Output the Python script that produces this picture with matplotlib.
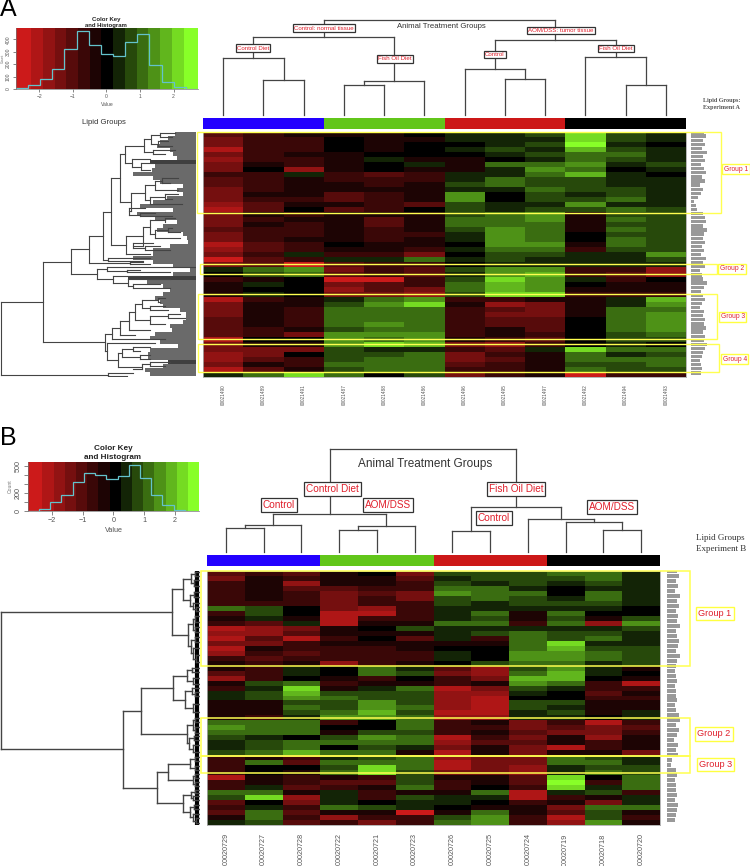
import numpy as np
from matplotlib import pyplot as plt
from matplotlib.colors import LinearSegmentedColormap
from matplotlib.patches import Rectangle

plt.rcParams['font.family'] = ['Liberation Sans', 'DejaVu Sans']

W, H = 750, 866

# panel A
labels_a = ['00021490', '00021489', '00021491', '00021487', '00021488', '00021486',
            '00021496', '00021495', '00021497', '00021492', '00021494', '00021493']
heat_a = [
    [-1.1, -.7, -.5, -.3, -.2, -.1, .5, .4, .7, 2.0, .7, .3],
    [-1.4, -.8, -.6, -.1, -.2, -.3, .4, .2, .5, 2.3, .6, .2],
    [-1.5, -.6, -.7, 0, -.2, 0, .1, .3, .6, 2.4, .5, .1],
    [-2.0, -.9, -.8, -.1, -.3, 0, .4, .6, .5, 1.9, .8, .4],
    [-1.5, -.8, -.4, -.3, -.1, -.1, -.1, .5, .6, .9, .9, .2],
    [-1.8, -.9, -.8, -.2, .3, -.3, -.2, -.1, .4, 1.2, .8, .4],
    [-1.6, -.5, -.7, -.4, .1, .3, -.3, 1.0, 1.0, 1.3, .3, .6],
    [-1.3, .1, -1.7, -.3, .1, -.5, -.2, .3, 1.5, .9, .1, .2],
    [-.9, -.7, .3, -.9, -1.1, -.8, .4, .5, 1.1, 1.9, .2, 0],
    [-1.2, -.8, -.4, -.7, -.9, -.6, .5, 1.1, .7, .7, .5, .3],
    [-1.2, -.9, -.5, -.5, -.6, -.5, .6, 1.0, .8, .6, .5, .4],
    [-1.3, -.8, -.5, -.3, -.5, -.5, .5, .4, .9, .7, .6, .3],
    [-1.3, -.5, -.5, -1.1, -.9, -.5, 1.4, .1, .8, .4, .8, .3],
    [-1.4, -.8, -.6, -1.0, -.7, -.5, 1.3, -.1, .6, .8, .9, .5],
    [-1.7, -1.0, -.2, -.3, -.8, -1.1, .7, .2, .5, 1.3, .5, .4],
    [-2.1, -1.1, -.1, -1.0, -.6, .1, .6, .2, .6, .8, .9, .6],
    [-1.3, -.4, -.6, -.4, -.3, -.2, .8, 1.1, 1.4, -.2, .6, .7],
    [-1.3, -.6, -.4, -.5, -1.0, -.3, 1.0, 1.0, 1.3, -.5, .9, .8],
    [-1.4, -.5, -.6, -.3, -1.1, -.4, .9, 1.2, 1.1, -.5, .7, .7],
    [-1.2, -.8, -.7, -.5, -.7, -.5, .6, 1.5, 1.0, -.2, .9, .8],
    [-1.6, -.9, -.6, -.4, -.9, -.7, .3, 1.6, 1.1, 0, .7, .8],
    [-1.3, -.8, -.5, -.2, -.7, -.5, .5, 1.4, .9, .1, .9, .8],
    [-2.1, -1.0, -.7, -.1, -.5, -.4, .1, 1.3, 1.3, -.2, 1.0, .8],
    [-1.9, -1.0, -.6, -.2, -.3, -.8, .2, .9, 1.0, -.6, .6, .8],
    [-1.3, -.8, .2, -.8, -.9, -1.5, .1, .7, .8, .2, .3, 1.6],
    [-2.6, -1.2, -.7, .4, .2, .9, .2, .6, .5, .4, .4, .8],
    [-1.4, -1.0, -2.5, -1.2, -.7, -.9, 0, .4, .3, .5, .5, .5],
    [.3, .9, 1.4, -1.3, -.9, -1.0, .7, 1.5, 1.6, -.9, -.8, -1.9],
    [.1, .6, 1.1, -1.0, -.8, -1.2, .5, 1.3, 1.7, -.7, -1.2, -1.8],
    [-.9, -.3, .1, -2.4, -2.4, -.8, .7, 2.3, 1.4, .2, -.6, 0],
    [-.4, .2, .1, -1.6, -1.0, -.6, .9, 1.8, 1.3, .1, -.3, -.2],
    [-.4, .1, -.1, -1.7, -1.2, -1.5, 1.0, 1.9, 1.5, -.3, -.4, -.4],
    [-.5, .3, .1, -1.4, -1.3, -1.9, .8, 2.0, 2.0, -.8, -.6, -.7],
    [-2.0, -.7, -.4, .2, 1.2, 1.6, -.7, -.9, -.3, -.2, .3, 1.9],
    [-1.4, -.4, -.5, .6, 1.5, 2.1, -.4, -1.9, -1.5, -.2, .5, 1.4],
    [-1.3, -.3, -.7, .9, .9, 1.1, -.7, -1.2, -1.5, -.3, .9, 1.2],
    [-1.5, -.2, -.6, .9, 1.2, 1.2, -.7, -1.3, -1.3, -.2, .9, 1.3],
    [-1.2, -.3, -.7, .9, 1.2, 1.2, -.6, -1.1, -1.1, 0, .9, 1.3],
    [-1.1, -.5, -.7, 1.0, 1.3, 1.2, -.9, -1.0, -1.0, -.1, .9, 1.3],
    [-1.0, -.9, -.3, .8, 1.1, 1.2, -.8, -.5, -1.1, -.1, .9, 1.3],
    [-1.2, -.6, -1.4, 1.3, 1.5, 1.6, -.9, -.4, -.9, .1, .8, 1.0],
    [-2.0, .1, -.1, 1.5, 1.2, 1.5, -.3, -.9, -1.0, .1, .6, .7],
    [-1.3, -.5, -.2, 1.3, 2.0, 1.7, -1.4, -1.9, -.7, -.1, .3, 0],
    [-1.6, -1.5, -1.6, .6, .5, .3, -.7, -1.0, .3, 2.0, .9, .9],
    [-1.7, -1.6, -.1, .8, .7, .9, -1.4, -.7, -.2, 1.0, .4, .6],
    [-1.9, -1.1, -.7, .7, .9, 1.0, -1.5, -1.2, -.4, 1.0, .9, .9],
    [-1.4, -.5, -.9, 1.0, .9, 1.2, -1.2, -.9, -.5, .7, .7, .9],
    [-2.1, -1.0, -.5, .8, 1.2, 1.0, -.9, -.7, -.4, 1.0, .7, .7],
    [.3, 1.2, 2.0, 1.0, -.1, .8, -1.3, -.9, -.5, -2.7, -.8, -.7],
]
hist_a = [5, 30, 80, 160, 318, 465, 350, 285, 265, 375, 445, 195, 55, 15, 2]
# nested merges: [height, left, right], ints are column leaves
col_tree_a = [20, [37, [58, 0, [80, 1, 2]], [81, [85, 3, 4], 5]],
              [40, [69, 6, [79, 7, 8]], [57, 9, [85, 10, 11]]]]
leaf_edge_a = [175, 168, 160, 157, 170, 173, 177, 150, 155, 152, 133, 153, 160, 183, 177, 183,
               167, 153, 140, 173, 137, 155, 177, 163, 157, 183, 187, 188, 170, 153, 153, 133,
               153, 173, 190, 173, 128, 147, 163, 170, 163, 155, 160, 163, 180, 186, 186, 183,
               170, 172, 155, 150, 160, 178, 150, 148, 148, 168, 163, 145, 150]
dark_rows_a = [7, 36, 57]
# nested rows: [x, child, child], tuples are (y, x end) leaves
row_tree_a = [1,
    [43,
     [71,
      [89,
       [103,
        [111,
         [120,
          [125,
           [144, [151, [160, (133, 175), (137, 172)], [158, (141, 168), (146, 172)]],
            [153, (150, 175), (154, 165)]],
           [132, (159, 150), [141, (163, 153), (170, 150)]]],
          [131,
           [145, [155, [162, (178, 178), (183, 170)], (190, 178)],
            [150, [165, (194, 178), (199, 172)], (204, 182)]],
           [129, (208, 145), [140, (213, 155), (216, 172)]]]],
         [126,
          [143, [150, [165, (218, 175), (222, 165)], [155, [168, (228, 172), (232, 180)], (238, 180)]],
           [133, (243, 153), [145, (246, 160), (250, 170)]]],
          (254, 150)]],
        [108, (258, 150), (261, 143)]],
       [130, (262, 143), (264, 150)]],
      [97, [107, (267, 195), [127, (269.5, 140), (272, 170)]],
       [113, (276, 140), [128, (279, 170), [133, (284, 160), (288, 170)]]]]],
     [105,
      [112,
       [120,
        [129,
         [135, [142, [158, (298, 165), (302, 160)], [150, (306, 165), (310, 168)]],
          [150, [168, (314, 180), (318, 185)], (324, 165)]],
         (330, 150)],
        (335, 135)],
       (339, 165)],
      [107, (343, 155),
       [118, [122, [133, (347, 150), (351, 140)], [140, (355, 150), (359, 150)]],
        [142, [150, (362, 170), (366, 165)], (369, 133)]]]]],
    [108, (373, 133), (376, 127)]]
row_label_len_a = [13, 15, 12, 14, 11, 16, 12, 14, 10, 13, 15, 11, 14, 9, 12, 10, 7, 3, 5, 6, 12, 14,
                   15, 12, 16, 13, 12, 14, 11, 13, 10, 15, 12, 14, 9, 11, 12, 16, 13, 10, 12, 14,
                   11, 9, 13, 12, 14, 13, 15, 12, 14, 13, 16, 14, 12, 11, 9, 10, 11, 10]

# panel B
labels_b = ['00020729', '00020727', '00020728', '00020722', '00020721', '00020723',
            '00020726', '00020725', '00020724', '00020719', '00020718', '00020720']
heat_b = [
    [-1.2, -.6, -1.0, -.5, -.1, -1.3, .6, .7, .6, .9, .9, .2],
    [-1.3, -.4, -.9, -.5, -.5, -1.0, .4, .7, .6, .8, 1.0, .4],
    [-.9, -.3, -1.8, -.4, -.3, -.8, .8, .4, .7, .4, .7, .2],
    [-.7, -.3, -1.2, -1.2, -.8, -.9, 1.2, .9, .5, .1, .5, .5],
    [-.9, -.2, -.8, -1.3, -1.0, -1.4, 1.3, 1.1, .9, -.1, .9, .5],
    [-.6, -.5, -.7, -1.3, -.9, -1.4, .8, 1.0, .6, .4, .9, .3],
    [-.6, -.6, -.7, -1.4, -.9, -.7, .7, .4, .7, .6, .6, .4],
    [.9, .6, -.1, -1.5, -1.9, -.7, .5, .5, .4, .5, .3, .1],
    [-.8, .8, -.1, -2.0, -2.0, -.8, .3, 1.2, -.4, .9, 0, .1],
    [-.3, .2, -.2, -2.2, -.6, -.6, .5, .8, -.5, .7, -.2, .8],
    [-.7, -1.0, .4, -2.3, -.5, -.4, 1.1, .9, -.8, 1.1, -1.9, 1.4],
    [-2.0, -1.8, -1.3, -.2, -.1, .7, .3, .5, .4, .5, .3, .6],
    [-1.9, -1.8, -1.0, -.4, -.5, -.2, .5, .7, .9, .8, .8, .3],
    [-2.3, -1.0, -2.0, -.6, .1, -1.1, .2, -.6, .9, .7, .9, .4],
    [-1.6, -1.5, -.7, -.3, -.3, -.5, -.2, -.4, 1.2, 2.0, .5, .5],
    [-2.1, -.3, -.8, -.7, -.6, -.5, .1, .1, 1.2, 1.8, .7, .6],
    [-1.9, -.9, -1.0, -.9, -.8, -.8, .4, .1, 1.5, 1.5, .9, .7],
    [-.8, -1.2, -.9, -.8, -.8, -.6, .3, .1, 1.5, 1.6, .9, .6],
    [-.4, -.8, -.2, -1.7, -.6, -.3, 0, .6, 1.0, 1.1, .4, .6],
    [-.5, -.6, .3, -.1, .9, .5, -1.2, -1.8, .7, 1.6, .2, -.2],
    [-1.2, -.6, .2, .1, 1.1, .6, -1.5, -1.7, 1.2, 1.9, .4, -.1],
    [-1.8, -.8, .1, -.3, -.7, .1, -.7, -1.4, 1.9, 1.8, .1, -.2],
    [-.5, .6, .9, -.6, -.3, -.4, -.9, -.5, 1.3, .9, -.7, -2.0],
    [-.8, .5, 2.1, -.2, .4, 1.2, -2.3, -1.6, .8, .4, -.6, -.8],
    [.2, .6, 1.8, .7, .7, .8, -1.9, -1.9, .3, 0, -1.1, -.5],
    [.3, .7, 1.4, 1.0, .6, .8, -1.9, -2.0, 0, .1, -.9, -.6],
    [-.4, -.3, .8, .8, 1.4, .7, -1.9, -2.3, .6, .7, -.5, -.3],
    [-.5, -.3, .9, .7, 1.6, .9, -1.9, -2.1, .7, .5, -.4, -.2],
    [-.3, -.2, .8, .9, 1.8, .8, -2.0, -2.0, .2, .8, -.3, .2],
    [-.5, -.6, .3, 1.4, 1.3, 1.0, -1.7, -1.7, .5, .4, .1, .3],
    [1.2, .9, 1.0, -.9, -.1, 1.1, -.9, -.5, -1.6, -.7, -2.0, -.8],
    [1.5, 1.0, 1.2, 0, 0, 1.0, -.9, -.7, -1.5, -1.1, -1.3, -1.0],
    [1.0, .9, 1.0, -.5, .6, .6, -.8, -.4, -1.1, -1.5, -1.5, -.9],
    [.7, .5, .1, .8, 1.5, .9, -2.0, -.6, -1.3, -.3, -1.7, -.2],
    [.4, .6, .9, .9, 1.0, 1.1, -1.9, -1.2, -1.1, -.2, -.6, -.2],
    [.5, .6, 1.0, .1, .8, .4, -1.6, -.5, -1.5, -2.0, -.7, -.5],
    [.6, .9, 1.7, .9, .9, -.4, -2.1, -.3, -1.5, -.4, -.3, -1.6],
    [-.7, -.3, -.7, .2, .6, .9, -1.8, -1.5, -1.5, 1.0, .7, .2],
    [-.9, 1.2, -1.0, .9, 1.0, 1.0, -2.1, -1.6, -1.6, 1.1, .9, .4],
    [-.9, .1, -.1, .7, 2.0, .9, -2.2, -1.5, -1.8, .2, .8, .6],
    [-.7, .1, -.3, 1.1, 2.0, .8, -1.5, -1.4, -1.7, .3, .9, .7],
    [-2.0, -.4, -.7, -.5, -.7, .8, -.5, -.2, -1.1, 2.3, .1, 1.1],
    [-.8, -.3, -.6, -1.2, -1.2, .7, -.7, -.3, -1.0, 2.4, -.6, 1.2],
    [-.9, .2, -1.0, -.8, -.4, .9, -.6, .1, -.9, 2.3, .2, 1.0],
    [1.0, .9, -.4, .5, -.6, -.2, -.2, 1.0, -2.1, .3, .8, -.7],
    [.8, 2.2, -1.8, .2, -.9, .8, .2, .2, -2.3, -.6, -.4, .3],
    [-1.2, -.1, -1.3, .4, .1, .4, .3, .1, -.7, -.4, -1.6, .2],
    [-.7, .3, -.9, 1.0, .6, .2, 0, -.3, -.5, -1.5, 1.1, 1.1],
    [-1.2, .9, -1.1, -.2, -.4, -2.4, -.4, 1.0, -.3, -1.0, .6, -.3],
    [-.5, 1.1, -.6, -1.9, -.6, -.9, .8, 1.3, -.6, -2.2, .7, -.6],
    [.2, .8, -1.1, -.8, -1.4, -.6, 1.0, 1.4, -.9, -1.8, 1.5, -.2],
]
hist_b = [3, 25, 100, 183, 325, 425, 400, 355, 388, 518, 373, 183, 63, 15, 2]
col_tree_b = [449, [514, [525, [528, 0, 1], 2], [526, [530, 3, 4], 5]],
              [507, [531, 6, 7], [519, 8, [522, 9, [530, 10, 11]]]]]
row_tree_b = [1,
    [172,
     [183,
      [191, [195, (572, 199), (576, 199)], [194, (580, 199), (586, 199)]],
      [190, [194, (592, 199), (597, 199)], [193, (603, 199), [196, (607, 199), (611, 199)]]]],
     [188,
      [193, [195, (616, 199), (622, 199)], [195, (627, 199), (632, 199)]],
      [191, [195, (637, 199), (642, 199)], [193, (648, 199), [196, (655, 199), (662, 199)]]]]],
    [123,
     [141,
      [173,
       [187, [192, (668, 199), (672, 199)], [193, (678, 199), (684, 199)]],
       [185, [192, (688, 199), [195, (692, 199), (696, 199)]], [193, (704, 199), (712, 199)]]],
      [187,
       [193, [195, (718, 199), (722, 199)], [195, (727, 199), (733, 199)]],
       [189, [194, (736, 199), (740, 199)], [193, (745, 199), (752, 199)]]]],
     [157,
      [168,
       [190, [195, (757, 199), (761, 199)], [195, (766, 199), (770, 199)]],
       [193, [195, (774, 199), (778, 199)], [195, (782, 199), (786, 199)]]],
      [183,
       [191, [195, (790, 199), (793, 199)], [193, (796, 199), (800, 199)]],
       [190, [194, (805, 199), (809, 199)], [193, (814, 199), [196, (818, 199), (823, 199)]]]]]]]
row_label_len_b = [10, 12, 9, 11, 8, 13, 10, 12, 9, 11, 10, 13, 9, 10, 12, 11, 9, 13, 10, 9, 8, 9, 10,
                   8, 9, 9, 10, 8, 9, 12, 13, 9, 12, 10, 7, 11, 9, 11, 5, 4, 9, 10, 8, 9, 9, 10, 8,
                   11, 10, 9, 8]

bar_colors = ['#2200ff', '#62c61a', '#cc1818', '#000000']
key_colors = ['#cc1a1a', '#000000', '#88ff28']
line_col = '#444444'
note_red = '#e0202c'
cmap = LinearSegmentedColormap.from_list('rg', key_colors, N=15)


def px_axes(fig, x0, y0, x1, y1, **kw):
    # axes placed from pixel edges of the picture
    return fig.add_axes([x0 / W, 1 - y1 / H, (x1 - x0) / W, (y1 - y0) / H], **kw)


def draw_row_tree(ax, node, lw=0.8):
    if isinstance(node, tuple):
        return node[1], node[0]
    x = node[0]
    ends = [draw_row_tree(ax, c, lw) for c in node[1:]]
    ys = [e[1] for e in ends]
    ax.plot([x, x], [min(ys), max(ys)], color=line_col, lw=lw, solid_capstyle='projecting')
    for ex, ey in ends:
        ax.plot([x, ex], [ey, ey], color=line_col, lw=lw)
    return x, sum(ys) / len(ys)


def draw_col_tree(ax, node, centers, base, lw=0.9):
    if isinstance(node, int):
        return centers[node], base
    y = node[0]
    ends = [draw_col_tree(ax, c, centers, base, lw) for c in node[1:]]
    xs = [e[0] for e in ends]
    ax.plot([min(xs), max(xs)], [y, y], color=line_col, lw=lw, solid_capstyle='projecting')
    for ex, ey in ends:
        ax.plot([ex, ex], [y, ey], color=line_col, lw=lw)
    return sum(xs) / len(xs), y


def draw_key(fig, box, xlim, ymax, counts, band_start, band_w, hist_start, hist_w, yticks, ylabels, fs):
    ax = px_axes(fig, *box)
    edges = [xlim[0]] + [band_start + band_w * i for i in range(14)] + [xlim[1]]
    centers = np.linspace(-2.7, 2.7, 15)
    ax.pcolormesh(edges, [0, ymax], np.array([centers]), cmap=cmap, vmin=-2.7, vmax=2.7)
    steps = [xlim[0]] + [hist_start + hist_w * i for i in range(15)]
    ax.stairs(counts[:14] + [counts[14]], steps[:16], color='#63c3cc', lw=0.9)
    ax.set_xlim(*xlim)
    ax.set_ylim(0, ymax)
    ax.set_xticks([-2, -1, 0, 1, 2], ['\u22122', '\u22121', '0', '1', '2'])
    ax.set_yticks(yticks, ylabels, rotation=90, va='center')
    ax.tick_params(labelsize=fs, length=fs * 0.6, width=0.5, colors='#555555', pad=1.5)
    ax.set_xlabel('Value', fontsize=fs, color='#555555', labelpad=2)
    ax.set_ylabel('Count', fontsize=fs * 0.7, color='#777777', labelpad=1)
    for s in ['top', 'right']:
        ax.spines[s].set_visible(False)
    for s in ['left', 'bottom']:
        ax.spines[s].set_linewidth(0.5)
        ax.spines[s].set_color('#777777')
    return ax


def draw_heat(fig, box, rows, labels, fs, pad):
    ax = px_axes(fig, *box)
    data = np.array(rows)
    ax.pcolormesh(np.arange(13), np.arange(len(rows) + 1), data, cmap=cmap, vmin=-2.7, vmax=2.7)
    ax.set_ylim(len(rows), 0)
    ax.set_yticks([])
    ax.set_xticks(np.arange(12) + 0.5, labels, rotation=90, fontsize=fs, color='#555555')
    ax.tick_params(axis='x', length=0, pad=pad)
    for s in ax.spines.values():
        s.set_color('#aaaaaa')
        s.set_linewidth(0.6)
    return ax


def draw_bar(fig, box):
    ax = px_axes(fig, *box)
    ax.bar([0, 1, 2, 3], [1, 1, 1, 1], width=1, align='edge', color=bar_colors)
    ax.set_xlim(0, 4)
    ax.set_ylim(0, 1)
    ax.axis('off')


def draw_labels_band(fig, box, lens):
    ax = px_axes(fig, *box)
    ax.barh(np.arange(len(lens)), lens, height=0.8, color='#999999')
    ax.set_xlim(0, box[2] - box[0])
    ax.set_ylim(len(lens), 0)
    ax.axis('off')


def note(ax, x, y, s, fs):
    ax.text(x, y, s, color=note_red, fontsize=fs, ha='center', va='center', zorder=5,
            bbox=dict(boxstyle='square,pad=0.2', facecolor='white', edgecolor='#333333', linewidth=0.9))


def group_note(ax, x, y, s, fs):
    ax.text(x, y, s, color=note_red, fontsize=fs, ha='center', va='center', zorder=5,
            bbox=dict(boxstyle='square,pad=0.22', facecolor='white', edgecolor='#ffff40', linewidth=1.0))


def group_box(ax, x0, y0, x1, y1, lw=1.0):
    ax.add_patch(Rectangle((x0, y0), x1 - x0, y1 - y0, fill=False, edgecolor='#ffff50', lw=lw, zorder=4))


fig = plt.figure(figsize=(W / 100, H / 100), dpi=100)

# panel A
draw_key(fig, (16, 28, 198, 89), (-2.7, 2.73), 490, hist_a, -2.25, 0.35, -2.34, 0.362,
         [0, 100, 200, 300, 400], ['0', '100', '200', '300', '400'], 3.6)
draw_bar(fig, (203, 118, 686, 129))
draw_heat(fig, (203, 132, 686, 377), heat_a, labels_a, 3.4, 5)
draw_labels_band(fig, (691, 132, 708, 377), row_label_len_a)

tree_a = px_axes(fig, 0, 132, 196, 377)
tree_a.barh([132 + 4 * i + 2 for i in range(len(leaf_edge_a))],
            [196 - v for v in leaf_edge_a], left=leaf_edge_a, height=4,
            color=['#3f3f3f' if i in dark_rows_a else '#6a6a6a' for i in range(len(leaf_edge_a))])
draw_row_tree(tree_a, row_tree_a)
tree_a.set_xlim(0, 196)
tree_a.set_ylim(377, 132)
tree_a.axis('off')

# panel B
draw_key(fig, (28, 462, 199, 511), (-2.77, 2.78), 548, hist_b, -2.30, 0.363, -2.42, 0.365,
         [0, 100, 200, 300, 400, 500], ['0', '', '200', '', '', '500'], 5.2)
draw_bar(fig, (207, 555, 660, 566))
draw_heat(fig, (207, 571, 660, 825), heat_b, labels_b, 5.2, 6)
draw_labels_band(fig, (667, 571, 682, 825), row_label_len_b)

tree_b = px_axes(fig, 0, 571, 200, 825)
tree_b.vlines(197, 571, 825, color='black', lw=3)
draw_row_tree(tree_b, row_tree_b, lw=1.0)
tree_b.set_xlim(0, 200)
tree_b.set_ylim(825, 571)
tree_b.axis('off')

# overlay in picture pixels for the trees on top and all notes
top = fig.add_axes([0, 0, 1, 1], facecolor='none')
top.set_xlim(0, W)
top.set_ylim(H, 0)
top.axis('off')

centers_a = [203 + 40.25 * (i + 0.5) for i in range(12)]
centers_b = [207 + 37.75 * (i + 0.5) for i in range(12)]
root_a = draw_col_tree(top, col_tree_a, centers_a, 115)
root_b = draw_col_tree(top, col_tree_b, centers_b, 552)

top.text(0, 9, 'A', fontsize=18, color='black', ha='left', va='center')
top.text(0, 438, 'B', fontsize=18, color='black', ha='left', va='center')
top.text(106, 22.5, 'Color Key\nand Histogram', fontsize=4.3, fontweight='bold', color='#222222',
         ha='center', va='center', linespacing=1.25)
top.text(113, 453, 'Color Key\nand Histogram', fontsize=5.9, fontweight='bold', color='#222222',
         ha='center', va='center', linespacing=1.25)

top.text(441, 26.7, 'Animal Treatment Groups', fontsize=5.6, color='#333333', ha='center', va='center')
top.text(104, 123, 'Lipid Groups', fontsize=5.6, color='#333333', ha='center', va='center')
top.text(703, 104, 'Lipid Groups:\nExperiment A', fontsize=4.4, fontweight='bold', color='#555555',
         family='Liberation Serif', ha='left', va='center', linespacing=1.3)
note(top, 324, 28, 'Control: normal tissue', 4.4)
note(top, 253, 48, 'Control Diet', 4.4)
note(top, 395, 59, 'Fish Oil Diet', 4.4)
note(top, 561, 30.7, 'AOM/DSS: tumor tissue', 4.4)
note(top, 495, 54.3, 'Control', 4.4)
note(top, 616, 48.7, 'Fish Oil Diet', 4.4)

group_box(top, 197, 132, 721, 212.7)
group_box(top, 200, 264.3, 716.7, 273.7)
group_box(top, 198, 294.3, 716.7, 338.7)
group_box(top, 198, 344, 719, 372.3)
group_note(top, 736, 169.3, 'Group 1', 4.8)
group_note(top, 732, 268.7, 'Group 2', 4.8)
group_note(top, 732.7, 316.7, 'Group 3', 4.8)
group_note(top, 734.7, 359.3, 'Group 4', 4.8)

top.text(424.7, 464.3, 'Animal Treatment Groups', fontsize=8.5, color='#333333', ha='center', va='center')
top.text(696, 543.5, 'Lipid Groups\nExperiment B', fontsize=6.5, color='#333333',
         family='Liberation Serif', ha='left', va='center', linespacing=1.35)
note(top, 332.3, 488.7, 'Control Diet', 7.2)
note(top, 278.7, 505, 'Control', 7.2)
note(top, 388, 505, 'AOM/DSS', 7.2)
note(top, 516, 489, 'Fish Oil Diet', 7.2)
note(top, 494, 518.3, 'Control', 7.2)
note(top, 612, 507.3, 'AOM/DSS', 7.2)

group_box(top, 201.3, 571.3, 690.3, 666, 1.1)
group_box(top, 201.3, 718.3, 690.3, 755.7, 1.1)
group_box(top, 201.3, 755.7, 690.3, 773.3, 1.1)
group_note(top, 715, 613.7, 'Group 1', 6.6)
group_note(top, 714, 734, 'Group 2', 6.6)
group_note(top, 715.3, 764.3, 'Group 3', 6.6)

fig.savefig('out.png', dpi=100)
